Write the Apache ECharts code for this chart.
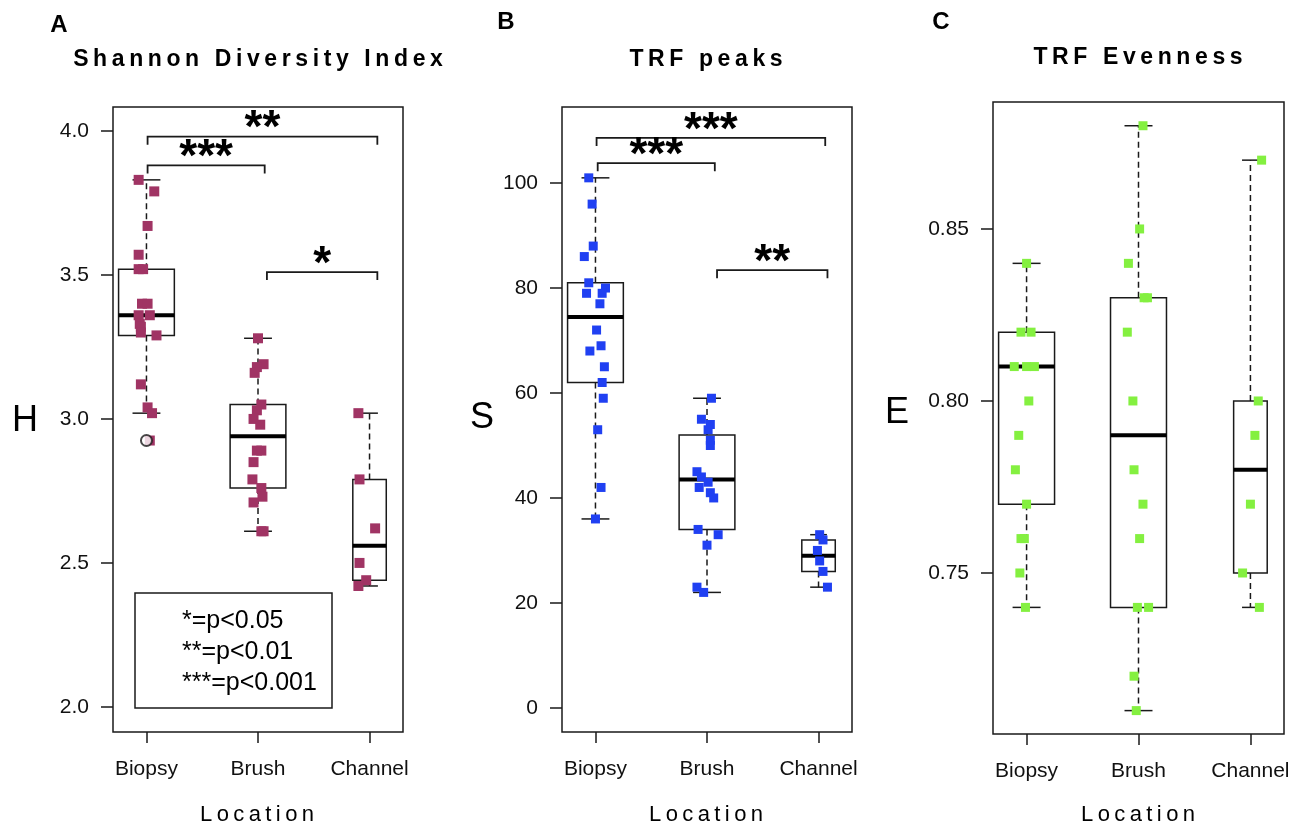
<!DOCTYPE html>
<html>
<head>
<meta charset="utf-8">
<title>Diversity by sampling location</title>
<script src="https://cdn.jsdelivr.net/npm/echarts@6.0.0/dist/echarts.min.js"></script>
<style>
  html, body { margin: 0; padding: 0; background: #fff; }
  #chart { width: 1295px; height: 828px; }
</style>
</head>
<body>
<div id="chart"></div>
<script>
const locations = ['Biopsy', 'Brush', 'Channel']

// box stats per location: [min, q1, median, q3, max]
const shannonBox = [[3.02, 3.29, 3.36, 3.52, 3.83], [2.61, 2.76, 2.94, 3.05, 3.28], [2.42, 2.44, 2.56, 2.79, 3.02]]
const peaksBox = [[36, 62, 74.5, 81, 101], [22, 34, 43.5, 52, 59], [23, 26, 29, 32, 33]]
const evenBox = [[0.74, 0.77, 0.81, 0.82, 0.84], [0.71, 0.74, 0.79, 0.83, 0.88], [0.74, 0.75, 0.78, 0.80, 0.87]]
const shannonOutliers = [[1, 2.925]]

// points: [jitter, value]
const shannonBiopsy = [[-0.07, 3.83], [0.07, 3.79], [0.01, 3.67], [-0.07, 3.57], [-0.07, 3.52], [-0.03, 3.52], [-0.04, 3.40], [0.01, 3.40], [-0.07, 3.36], [0.03, 3.36], [-0.06, 3.33], [-0.05, 3.32], [-0.05, 3.30], [0.09, 3.29], [-0.05, 3.12], [0.01, 3.04], [0.05, 3.02], [0.03, 2.925]]
const shannonBrush = [[0, 3.28], [0.05, 3.19], [-0.01, 3.18], [-0.03, 3.16], [0.03, 3.05], [-0.01, 3.03], [-0.04, 3.00], [0.02, 2.98], [-0.01, 2.89], [0.03, 2.89], [-0.04, 2.85], [-0.05, 2.79], [0.03, 2.76], [0.04, 2.73], [-0.04, 2.71], [0.05, 2.61], [0.03, 2.61]]
const shannonChannel = [[-0.10, 3.02], [-0.09, 2.79], [0.05, 2.62], [-0.09, 2.50], [-0.03, 2.44], [-0.10, 2.42]]

const peaksBiopsy = [[-0.06, 101], [-0.03, 96], [-0.02, 88], [-0.10, 86], [-0.06, 81], [0.09, 80], [0.06, 79], [-0.08, 79], [0.04, 77], [0.01, 72], [0.05, 69], [-0.05, 68], [0.08, 65], [0.06, 62], [0.07, 59], [0.02, 53], [0.05, 42], [0, 36]]
const peaksBrush = [[0.04, 59], [-0.05, 55], [0.03, 54], [0.01, 53], [0.03, 51], [0.03, 50], [-0.09, 45], [-0.05, 44], [0.01, 43], [-0.07, 42], [0.03, 41], [0.06, 40], [-0.08, 34], [0.10, 33], [0, 31], [-0.09, 23], [-0.03, 22]]
const peaksChannel = [[0.01, 33], [0.04, 32], [-0.01, 30], [0.01, 28], [0.04, 26], [0.08, 23]]

const evenBiopsy = [[0, 0.84], [-0.05, 0.82], [0.04, 0.82], [-0.11, 0.81], [0, 0.81], [0.07, 0.81], [0.02, 0.80], [-0.07, 0.79], [-0.10, 0.78], [0, 0.77], [-0.05, 0.76], [-0.02, 0.76], [-0.06, 0.75], [-0.01, 0.74]]
const evenBrush = [[0.04, 0.88], [0.01, 0.85], [-0.09, 0.84], [0.05, 0.83], [0.08, 0.83], [-0.10, 0.82], [-0.05, 0.80], [-0.04, 0.78], [0.04, 0.77], [0.01, 0.76], [-0.01, 0.74], [0.09, 0.74], [-0.04, 0.72], [-0.02, 0.71]]
const evenChannel = [[0.10, 0.87], [0.07, 0.80], [0.04, 0.79], [0, 0.77], [-0.07, 0.75], [0.08, 0.74]]

// significance brackets: [from, to, level, stars]
const shannonSig = [[1.01, 3.07, 3.98, '**'], [1.01, 2.06, 3.88, '***'], [2.08, 3.07, 3.51, '*']]
const peaksSig = [[1.01, 3.06, 108.6, '***'], [1.02, 2.07, 103.8, '***'], [2.09, 3.08, 83.4, '**']]

const yTicksA = [2.0, 2.5, 3.0, 3.5, 4.0]
const yTicksB = [0, 20, 40, 60, 80, 100]
const yTicksC = [0.75, 0.80, 0.85]

const boxWidths = [0.5, 0.5, 0.3]
const font = "'Liberation Sans', Arial, sans-serif"
const ink = '#1a1a1a'

const spaced = (s) => s.split('').join('\u2009')

function toPoints(groups) {
  const out = []
  groups.forEach((g, i) => {
    g.forEach((p) => out.push([i + 1 + p[0], p[1]]))
  })
  return out
}

function renderBox(params, api) {
  const x = api.value(0)
  const w = boxWidths[params.dataIndex]
  const yLo = api.coord([x, api.value(1)])[1]
  const yQ1 = api.coord([x, api.value(2)])[1]
  const yMed = api.coord([x, api.value(3)])[1]
  const yQ3 = api.coord([x, api.value(4)])[1]
  const yHi = api.coord([x, api.value(5)])[1]
  const cx = api.coord([x, 0])[0]
  const left = api.coord([x - w / 2, 0])[0]
  const right = api.coord([x + w / 2, 0])[0]
  const capL = api.coord([x - w / 4, 0])[0]
  const capR = api.coord([x + w / 4, 0])[0]
  const solid = { stroke: ink, lineWidth: 1.5, fill: null }
  const dashed = { stroke: ink, lineWidth: 1.5, lineDash: [6, 4] }
  return {
    type: 'group',
    children: [
      { type: 'line', shape: { x1: cx, y1: yQ3, x2: cx, y2: yHi }, style: dashed },
      { type: 'line', shape: { x1: cx, y1: yQ1, x2: cx, y2: yLo }, style: dashed },
      { type: 'line', shape: { x1: capL, y1: yHi, x2: capR, y2: yHi }, style: solid },
      { type: 'line', shape: { x1: capL, y1: yLo, x2: capR, y2: yLo }, style: solid },
      { type: 'rect', shape: { x: left, y: yQ3, width: right - left, height: yQ1 - yQ3 }, style: { stroke: ink, lineWidth: 1.5, fill: 'rgba(0,0,0,0)' } },
      { type: 'line', shape: { x1: left, y1: yMed, x2: right, y2: yMed }, style: { stroke: '#000', lineWidth: 4 } },
    ],
  }
}

function boxSeries(stats, idx) {
  return {
    type: 'custom',
    xAxisIndex: idx,
    yAxisIndex: idx,
    z: 2,
    renderItem: renderBox,
    encode: { x: 0, y: [1, 2, 3, 4, 5] },
    data: stats.map((s, i) => [i + 1].concat(s)),
  }
}

function sigSeries(sig, idx) {
  return {
    type: 'custom',
    xAxisIndex: idx,
    yAxisIndex: idx,
    z: 4,
    renderItem: (params, api) => {
      const item = sig[params.dataIndex]
      const p1 = api.coord([item[0], item[2]])
      const p2 = api.coord([item[1], item[2]])
      return {
        type: 'group',
        children: [
          {
            type: 'polyline',
            shape: { points: [[p1[0], p1[1] + 8], p1, p2, [p2[0], p2[1] + 8]] },
            style: { stroke: ink, lineWidth: 1.8, fill: null },
          },
          {
            type: 'text',
            x: (p1[0] + p2[0]) / 2,
            y: p1[1] - 7,
            style: { text: item[3], fontSize: 46, fontWeight: 'bold', fontFamily: font, fill: '#000', align: 'center', verticalAlign: 'middle' },
          },
        ],
      }
    },
    encode: { x: [0, 1], y: 2 },
    data: sig.map((s) => [s[0], s[1], s[2]]),
  }
}

function pointSeries(groups, color, idx, size) {
  return {
    type: 'scatter',
    xAxisIndex: idx,
    yAxisIndex: idx,
    z: 3,
    symbol: 'rect',
    symbolSize: size,
    itemStyle: { color, opacity: 1 },
    data: toPoints(groups),
  }
}

function xAxis(idx) {
  return {
    type: 'value',
    gridIndex: idx,
    min: 0.7,
    max: 3.3,
    axisLine: { show: false, onZero: false },
    splitLine: { show: false },
    axisTick: { show: true, length: 11, lineStyle: { color: ink, width: 1.5 }, customValues: [1, 2, 3] },
    axisLabel: {
      customValues: [1, 2, 3],
      margin: 27,
      fontSize: 21,
      fontFamily: font,
      color: '#111',
      formatter: (v) => locations[Math.round(v) - 1] || '',
    },
  }
}

function yAxis(idx, min, max, ticks, digits) {
  return {
    type: 'value',
    gridIndex: idx,
    min,
    max,
    axisLine: { show: false, onZero: false },
    splitLine: { show: false },
    axisTick: { show: true, length: 12, lineStyle: { color: ink, width: 1.5 }, customValues: ticks },
    axisLabel: {
      customValues: ticks,
      margin: 24,
      fontSize: 21,
      fontFamily: font,
      color: '#111',
      formatter: (v) => v.toFixed(digits),
    },
  }
}

function txt(x, y, text, size, weight, align) {
  return {
    type: 'text',
    x,
    y,
    style: {
      text,
      fontSize: size,
      fontWeight: weight || 'normal',
      fontFamily: font,
      fill: '#000',
      align: align || 'center',
      verticalAlign: 'middle',
      textAlign: align || 'center',
      textVerticalAlign: 'middle',
    },
  }
}

const frame = { show: true, borderColor: ink, borderWidth: 1.5, backgroundColor: 'transparent' }

const chart = echarts.init(document.getElementById('chart'))
chart.setOption({
  animation: false,
  backgroundColor: '#fff',
  grid: [
    { left: 113, top: 107, width: 290, height: 625, ...frame },
    { left: 562, top: 107, width: 290, height: 625, ...frame },
    { left: 993, top: 102, width: 291, height: 632, ...frame },
  ],
  xAxis: [xAxis(0), xAxis(1), xAxis(2)],
  yAxis: [
    yAxis(0, 1.913, 4.083, yTicksA, 1),
    yAxis(1, -4.6, 114.5, yTicksB, 0),
    yAxis(2, 0.7032, 0.8869, yTicksC, 2),
  ],
  series: [
    boxSeries(shannonBox, 0),
    boxSeries(peaksBox, 1),
    boxSeries(evenBox, 2),
    pointSeries([shannonBiopsy, shannonBrush, shannonChannel], '#A03464', 0, 10),
    pointSeries([peaksBiopsy, peaksBrush, peaksChannel], '#2040F2', 1, 9),
    pointSeries([evenBiopsy, evenBrush, evenChannel], '#84F040', 2, 9),
    {
      type: 'scatter',
      xAxisIndex: 0,
      yAxisIndex: 0,
      z: 5,
      symbol: 'emptyCircle',
      symbolSize: 11,
      itemStyle: { color: ink, borderWidth: 1.3 },
      data: shannonOutliers,
    },
    sigSeries(shannonSig, 0),
    sigSeries(peaksSig, 1),
  ],
  graphic: [
    txt(59, 25, 'A', 24, 'bold'),
    txt(506, 22, 'B', 24, 'bold'),
    txt(941, 22, 'C', 24, 'bold'),
    txt(258, 60, spaced('Shannon Diversity Index'), 23, 'bold'),
    txt(706, 60, spaced('TRF peaks'), 23, 'bold'),
    txt(1138, 58, spaced('TRF Evenness'), 23, 'bold'),
    txt(257, 815, spaced('Location'), 22),
    txt(706, 815, spaced('Location'), 22),
    txt(1138, 815, spaced('Location'), 22),
    txt(25, 421, 'H', 36),
    txt(482, 418, 'S', 36),
    txt(897, 413, 'E', 36),
    {
      type: 'rect',
      shape: { x: 135, y: 593, width: 197, height: 115 },
      style: { fill: 'rgba(0,0,0,0)', stroke: ink, lineWidth: 1.5 },
    },
    txt(182, 621, '*=p<0.05', 25, 'normal', 'left'),
    txt(182, 652, '**=p<0.01', 25, 'normal', 'left'),
    txt(182, 683, '***=p<0.001', 25, 'normal', 'left'),
  ],
})
</script>
</body>
</html>
